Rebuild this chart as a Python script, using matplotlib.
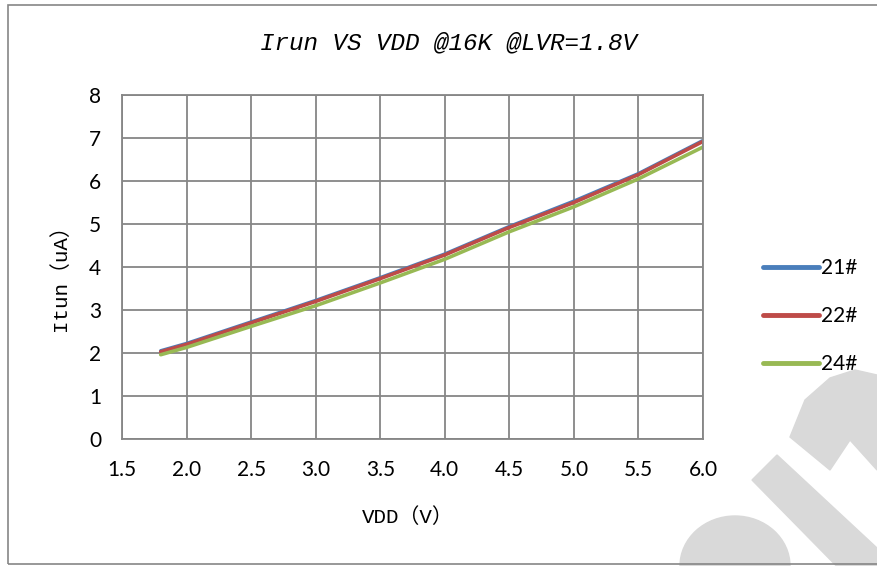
import numpy as np
import matplotlib.pyplot as plt
from matplotlib.patches import Rectangle, Polygon, Ellipse

# Данные
vdd = [1.8, 2.0, 2.5, 3.0, 3.5, 4.0, 4.5, 5.0, 5.5, 6.0]
i_21 = [2.05, 2.22, 2.72, 3.22, 3.75, 4.30, 4.94, 5.53, 6.17, 6.94]
i_22 = [2.03, 2.20, 2.70, 3.20, 3.73, 4.28, 4.92, 5.50, 6.15, 6.92]
i_24 = [1.96, 2.13, 2.62, 3.10, 3.63, 4.18, 4.82, 5.40, 6.05, 6.79]
labels = ['21#', '22#', '24#']
colors = ['#4a7ebb', '#be4b48', '#98b954']
xticks = [1.5, 2.0, 2.5, 3.0, 3.5, 4.0, 4.5, 5.0, 5.5, 6.0]
yticks = [0, 1, 2, 3, 4, 5, 6, 7, 8]

W, H = 877, 566
fig = plt.figure(figsize=(W / 100, H / 100), dpi=100)


def px(x, y):
    return (x / W, 1 - y / H)


# водяной знак (светло-серый)
wm = '#d9d9d9'
fig.add_artist(Ellipse(px(735, 566), 110 / W, 100 / H, transform=fig.transFigure,
                       color=wm, zorder=0))
fig.add_artist(Polygon([px(752, 480), px(777, 455), px(877, 548), px(877, 590), px(860, 590)],
                       closed=True, transform=fig.transFigure, color=wm, zorder=0))
fig.add_artist(Polygon([px(790, 437), px(805, 400), px(830, 378), px(855, 370), px(877, 375),
                        px(877, 470), px(850, 440), px(830, 470)],
                       closed=True, transform=fig.transFigure, color=wm, zorder=0))

# рамка
fig.add_artist(Rectangle(px(7.5, 564), (W + 10) / W, 559 / H, transform=fig.transFigure,
                         fill=False, edgecolor='#868686', linewidth=1.2, zorder=1))

ax = fig.add_axes([122 / W, 1 - 439 / H, (703 - 122) / W, (439 - 95) / H])
ax.set_facecolor('none')

series = [i_21, i_22, i_24]
for vals, lab, col in zip(series, labels, colors):
    ax.plot(vdd, vals, color=col, linewidth=2.6, label=lab, solid_capstyle='round')

ax.set_xlim(1.5, 6.0)
ax.set_ylim(0, 8)
ax.set_xticks(xticks)
ax.set_xticklabels([f'{v:.1f}' for v in xticks])
ax.set_yticks(yticks)
ax.grid(True, color='#868686', linewidth=1.3)
ax.set_axisbelow(True)
for s in ax.spines.values():
    s.set_color('#868686')
    s.set_linewidth(1.3)
ax.tick_params(length=0, labelsize=15, pad=15)
for t in ax.get_xticklabels() + ax.get_yticklabels():
    t.set_fontfamily('Lato')

fig.text(448 / W, 1 - 43 / H, 'Irun VS VDD @16K @LVR=1.8V', fontfamily='Liberation Mono',
         fontstyle='italic', fontsize=17.5, ha='center', va='center')
lab_font = ['Liberation Mono', 'Noto Sans CJK SC']
fig.text(408 / W, 1 - 517 / H, 'VDD（V）', family=lab_font, fontsize=15,
         ha='center', va='center')
fig.text(60 / W, 1 - 273 / H, 'Itun（uA）', family=lab_font, fontsize=15,
         ha='center', va='center', rotation=90)

leg = ax.legend(loc='center left', bbox_to_anchor=(1.071, 0.357), frameon=False,
                prop={'family': 'Lato', 'size': 15}, handlelength=2.7, handletextpad=0.1,
                labelspacing=1.35)
for ln in leg.get_lines():
    ln.set_linewidth(3.5)

fig.savefig('out.png', dpi=100)
